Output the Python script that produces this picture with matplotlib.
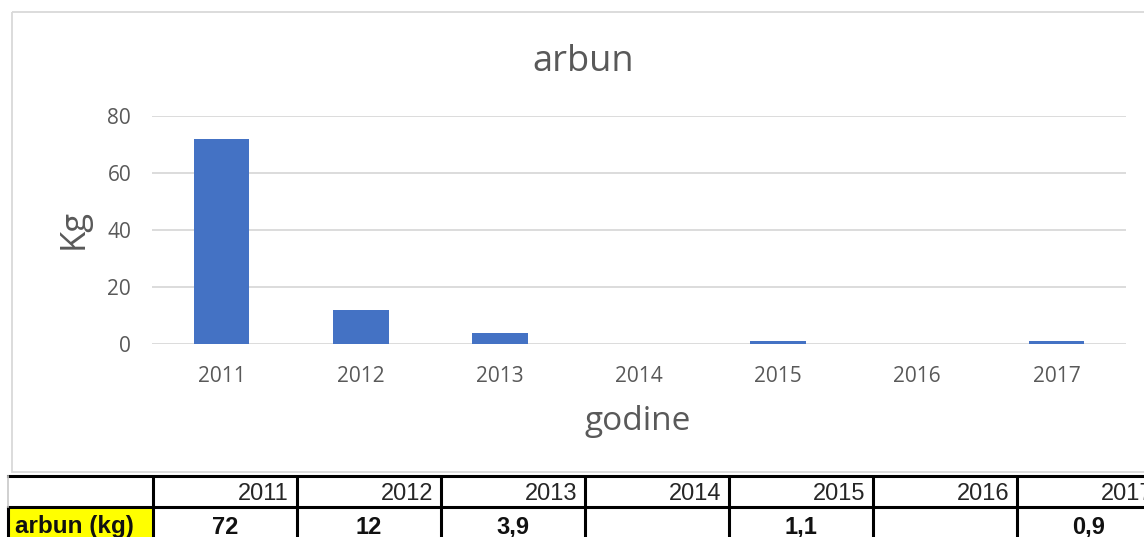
import numpy as np
import matplotlib
matplotlib.use("Agg")
import matplotlib.pyplot as plt
from matplotlib.patches import Rectangle

# data
years = ["2011", "2012", "2013", "2014", "2015", "2016", "2017"]
arbun_kg = [72, 12, 3.9, np.nan, 1.1, np.nan, 0.9]
table_values = ["72", "12", "3,9", "", "1,1", "", "0,9"]
row_label = "arbun (kg)"

W, H = 1144, 537
fig = plt.figure(figsize=(W / 100, H / 100), dpi=100)

# overlay in pixel coords for the chart border and the table
over = fig.add_axes([0, 0, 1, 1], zorder=0)
over.set_xlim(0, W)
over.set_ylim(H, 0)
over.axis("off")
over.add_patch(Rectangle((12, 12), 1150, 460, fill=False, edgecolor="#d9d9d9", lw=1.3))

# main chart
ax = fig.add_axes([152 / W, (H - 344) / H, (1126 - 152) / W, (344 - 116) / H], zorder=1)
ax.patch.set_alpha(0)
x = np.arange(len(years))
ax.bar(x, arbun_kg, width=0.4, color="#4472c4", zorder=3)
ax.set_xlim(-0.5, len(years) - 0.5)
ax.set_ylim(0, 80)
ax.set_yticks([0, 20, 40, 60, 80])
ax.set_xticks(x)
ax.set_xticklabels(years)
ax.grid(axis="y", color="#d9d9d9", lw=1.3, zorder=0)
for s in ax.spines.values():
    s.set_visible(False)
ax.tick_params(length=0, labelsize=15, labelcolor="#595959", pad=15, labelfontfamily="Open Sans")
ax.tick_params(axis="x", pad=16)

fig.text(583 / W, 1 - 62 / H, "arbun", ha="center", va="center", fontsize=26,
         color="#595959", family="Open Sans")
fig.text(74 / W, 1 - 229 / H, "Kg", ha="center", va="center", rotation=90,
         fontsize=25, color="#595959", family="Open Sans")
fig.text(638 / W, 1 - 421 / H, "godine", ha="center", va="center", fontsize=24,
         color="#595959", family="Open Sans")

# table below the chart
top, mid, bot = 476, 507, 545
first_l, first_r, colw = 8, 153, 144
over.add_patch(Rectangle((first_l, mid), first_r - first_l, bot - mid,
                         facecolor="#ffff00", edgecolor="none"))
edges = [first_r] + [first_r + colw * (i + 1) for i in range(len(years))]
for xe in edges:
    over.plot([xe, xe], [top, bot], color="black", lw=2.2, solid_capstyle="butt")
over.plot([first_l, first_l], [mid, bot], color="black", lw=2.2, solid_capstyle="butt")
over.plot([first_l, W + 20], [top, top], color="black", lw=2.2)
over.plot([first_l, W + 20], [mid, mid], color="black", lw=2.2)
# first header cell has a light border on the left
over.plot([first_l, first_l], [top, mid], color="#c8c8c8", lw=1.2)

for i, (yr, val) in enumerate(zip(years, table_values)):
    l = first_r + colw * i
    over.text(l + colw - 8, 493.5, yr, ha="right", va="center",
              fontsize=17, family="Liberation Sans", color="#262626")
    if val:
        over.text(l + colw / 2, 527, val, ha="center", va="center",
                  fontsize=17, family="Liberation Sans", weight="bold", color="#111111")
over.text(first_l + 7, 527, row_label, ha="left", va="center",
          fontsize=17.5, family="Liberation Sans", weight="bold", color="#111111")

fig.savefig("out.png", dpi=100)
